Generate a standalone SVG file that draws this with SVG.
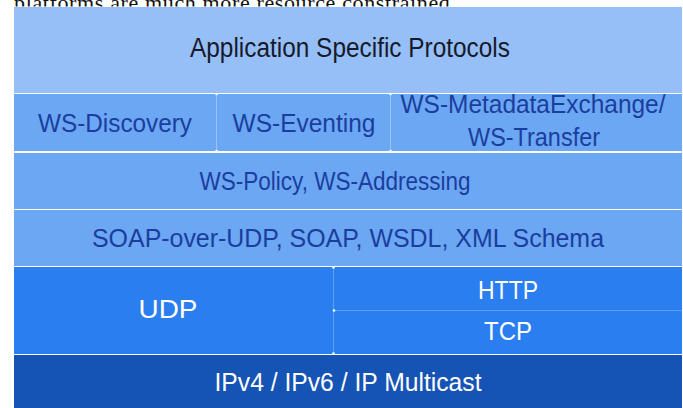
<svg xmlns="http://www.w3.org/2000/svg" width="683" height="408" viewBox="0 0 683 408">
<defs>
<style>
text{font-family:"Liberation Sans",Arial,sans-serif;text-anchor:middle}
.dk{fill:#1b3e9e;font-size:26px}
.wh{fill:#ffffff;font-size:26px}
.l1{fill:#96bff8}
.l2{fill:#6ca7f4}
.l3{fill:#2a7eef}
.l4{fill:#1553b5}
.sep{stroke:#9cc3f7;stroke-width:1;fill:none}
.dot{fill:#ffffff}
</style>
<clipPath id="topclip"><rect x="0" y="0" width="683" height="6.5"/></clipPath>
</defs>
<rect x="0" y="0" width="683" height="408" fill="#ffffff"/>
<text x="14" y="10" clip-path="url(#topclip)" style="font-family:'Liberation Serif','Times New Roman',serif;font-size:22px;text-anchor:start;fill:#111" textLength="442">platforms are much more resource constrained.</text>

<g id="app">
<rect class="l1" x="14" y="7" width="668" height="86"/>
<text x="350" y="57" style="fill:#161a2a;font-size:27px" textLength="320" lengthAdjust="spacingAndGlyphs">Application Specific Protocols</text>
</g>
<g id="ws-discovery">
<rect class="l2" x="14" y="94" width="202" height="57"/>
<text class="dk" x="115" y="132" textLength="154" lengthAdjust="spacingAndGlyphs">WS-Discovery</text>
</g>
<g id="ws-eventing">
<rect class="l2" x="217" y="94" width="173" height="57"/>
<text class="dk" x="304" y="132" textLength="143" lengthAdjust="spacingAndGlyphs">WS-Eventing</text>
</g>
<g id="ws-mex">
<rect class="l2" x="391" y="94" width="291" height="57"/>
<text class="dk" x="533" y="113" textLength="265" lengthAdjust="spacingAndGlyphs">WS-MetadataExchange/</text>
<text class="dk" x="534" y="146" textLength="132" lengthAdjust="spacingAndGlyphs">WS-Transfer</text>
</g>
<g id="ws-policy">
<rect class="l2" x="14" y="153" width="668" height="56"/>
<text class="dk" x="335" y="190" textLength="271" lengthAdjust="spacingAndGlyphs">WS-Policy, WS-Addressing</text>
</g>
<g id="soap">
<rect class="l2" x="14" y="210" width="668" height="56"/>
<text class="dk" x="348" y="247" textLength="512" lengthAdjust="spacingAndGlyphs">SOAP-over-UDP, SOAP, WSDL, XML Schema</text>
</g>
<g id="udp">
<rect class="l3" x="14" y="267" width="319" height="87"/>
<text class="wh" x="168" y="318" textLength="59" lengthAdjust="spacingAndGlyphs">UDP</text>
</g>
<g id="http">
<rect class="l3" x="334" y="267" width="348" height="43"/>
<text class="wh" x="508" y="299" textLength="60" lengthAdjust="spacingAndGlyphs">HTTP</text>
</g>
<g id="tcp">
<rect class="l3" x="334" y="311" width="348" height="43"/>
<text class="wh" x="508" y="340" textLength="48" lengthAdjust="spacingAndGlyphs">TCP</text>
</g>
<g id="ip">
<rect class="l4" x="14" y="355" width="668" height="53"/>
<text class="wh" x="348" y="391" textLength="267" lengthAdjust="spacingAndGlyphs">IPv4 / IPv6 / IP Multicast</text>
</g>
<g id="connectors">
<line class="sep" x1="216.5" y1="94" x2="216.5" y2="151"/>
<line class="sep" x1="390.5" y1="94" x2="390.5" y2="151"/>
<line x1="333.5" y1="267" x2="333.5" y2="354" stroke="#5d9ff3" stroke-width="1"/>
<line x1="334" y1="310.5" x2="682" y2="310.5" stroke="#5d9ff3" stroke-width="1"/>
<circle class="dot" cx="216.5" cy="94" r="1.3"/>
<circle class="dot" cx="216.5" cy="151" r="1.3"/>
<circle class="dot" cx="390.5" cy="94" r="1.3"/>
<circle class="dot" cx="390.5" cy="151" r="1.3"/>
<circle class="dot" cx="333.5" cy="267.5" r="1.3"/>
<circle class="dot" cx="334" cy="310.5" r="1.3"/>
<circle class="dot" cx="333.5" cy="353.5" r="1.3"/>
</g>
</svg>
